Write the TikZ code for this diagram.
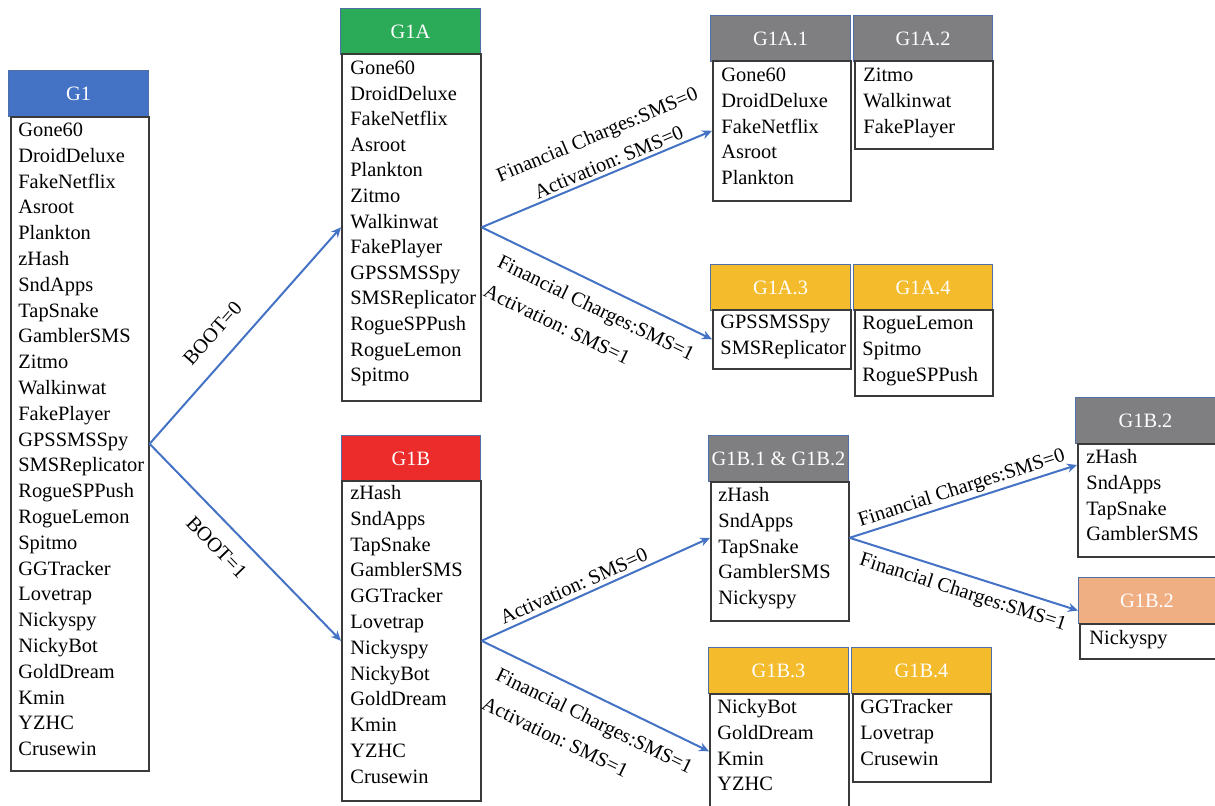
\documentclass[tikz,border=0pt]{standalone}
\usepackage{fontspec}
\setmainfont{Liberation Serif}
\usetikzlibrary{arrows.meta}
\frenchspacing

\definecolor{hdrline}{HTML}{4F6FA8}
\definecolor{lstline}{HTML}{3A3A3A}
\definecolor{arrblue}{HTML}{4472C4}
\definecolor{g1blue}{HTML}{4472C4}
\definecolor{g1green}{HTML}{2BAA57}
\definecolor{g1red}{HTML}{EC2B2B}
\definecolor{g1gray}{HTML}{7F7F81}
\definecolor{g1yellow}{HTML}{F4BC2C}
\definecolor{g1orange}{HTML}{F0AE83}

\begin{document}
\begin{tikzpicture}[x=0.5pt, y=-0.5pt, font=\fontsize{10.2}{12.9}\selectfont,
    hdr/.style={draw=hdrline, line width=0.5pt, text=white, anchor=north west,
      minimum width=70pt, minimum height=23pt, inner sep=0pt},
    lst/.style={draw=lstline, line width=0.8pt, fill=white, anchor=north west,
      minimum width=69pt, inner sep=0pt},
    item/.style={anchor=base west, inner sep=0pt},
    arr/.style={draw=arrblue, line width=1pt, -{Stealth[length=5pt, width=4.5pt]}},
    lbl/.style={sloped, inner sep=1pt, font=\fontsize{10.2}{13}\selectfont}]
  \useasboundingbox (0,0) rectangle (1215,805);

  % G1
  \node[hdr, fill=g1blue] (G1h) at (8,70) {G1};
  \node[lst, minimum height=327pt] (G1l) at (10,116) {};
  \foreach \t [count=\i from 0] in {Gone60,DroidDeluxe,FakeNetflix,Asroot,Plankton,zHash,SndApps,TapSnake,GamblerSMS,Zitmo,Walkinwat,FakePlayer,GPSSMSSpy,SMSReplicator,RogueSPPush,RogueLemon,Spitmo,GGTracker,Lovetrap,Nickyspy,NickyBot,GoldDream,Kmin,YZHC,Crusewin}
    \node[item] (G1-\i) at (18,136.5+25.8*\i) {\t};

  % G1A
  \node[hdr, fill=g1green] (G1Ah) at (340,8) {G1A};
  \node[lst, minimum width=69.5pt, minimum height=173.5pt] (G1Al) at (341,53) {};
  \foreach \t [count=\i from 0] in {Gone60,DroidDeluxe,FakeNetflix,Asroot,Plankton,Zitmo,Walkinwat,FakePlayer,GPSSMSSpy,SMSReplicator,RogueSPPush,RogueLemon,Spitmo}
    \node[item] (G1A-\i) at (350,74.5+25.6*\i) {\t};

  % G1B
  \node[hdr, fill=g1red, minimum width=69.5pt] (G1Bh) at (341,435) {G1B};
  \node[lst, minimum width=69.5pt, minimum height=160pt] (G1Bl) at (341,480) {};
  \foreach \t [count=\i from 0] in {zHash,SndApps,TapSnake,GamblerSMS,GGTracker,Lovetrap,Nickyspy,NickyBot,GoldDream,Kmin,YZHC,Crusewin}
    \node[item] (G1B-\i) at (350,499.5+25.8*\i) {\t};

  % G1A.1 / G1A.2
  \node[hdr, fill=g1gray] (G1A1h) at (710,15) {G1A.1};
  \node[lst, minimum height=70pt] (G1A1l) at (712,60) {};
  \foreach \t [count=\i from 0] in {Gone60,DroidDeluxe,FakeNetflix,Asroot,Plankton}
    \node[item] (G1A1-\i) at (721,81.5+25.8*\i) {\t};
  \node[hdr, fill=g1gray, minimum width=69.5pt] (G1A2h) at (853,15) {G1A.2};
  \node[lst, minimum height=44pt] (G1A2l) at (854,60) {};
  \foreach \t [count=\i from 0] in {Zitmo,Walkinwat,FakePlayer}
    \node[item] (G1A2-\i) at (863,81.5+25.8*\i) {\t};

  % G1A.3 / G1A.4
  \node[hdr, fill=g1yellow] (G1A3h) at (710,264) {G1A.3};
  \node[lst, minimum height=29.5pt] (G1A3l) at (712,309) {};
  \foreach \t [count=\i from 0] in {GPSSMSSpy,SMSReplicator}
    \node[item] (G1A3-\i) at (720,328.5+25.8*\i) {\t};
  \node[hdr, fill=g1yellow, minimum width=69.5pt] (G1A4h) at (853,264) {G1A.4};
  \node[lst, minimum height=43pt] (G1A4l) at (854,309) {};
  \foreach \t [count=\i from 0] in {RogueLemon,Spitmo,RogueSPPush}
    \node[item] (G1A4-\i) at (862,329.5+25.8*\i) {\t};

  % G1B.1 & G1B.2
  \node[hdr, fill=g1gray] (G1B12h) at (708,435) {G1B.1 \& G1B.2};
  \node[lst, minimum height=69.5pt] (G1B12l) at (710,481) {};
  \foreach \t [count=\i from 0] in {zHash,SndApps,TapSnake,GamblerSMS,Nickyspy}
    \node[item] (G1B12-\i) at (718,501.5+25.8*\i) {\t};

  % G1B.2 (zwei)
  \node[hdr, fill=g1gray] (G1B2h) at (1075,397) {G1B.2};
  \node[lst, minimum height=56.5pt] (G1B2l) at (1077,443) {};
  \foreach \t [count=\i from 0] in {zHash,SndApps,TapSnake,GamblerSMS}
    \node[item] (G1B2-\i) at (1086,463.5+25.8*\i) {\t};
  \node[hdr, fill=g1orange, minimum width=68.5pt] (G1B2oh) at (1078,577) {G1B.2};
  \node[lst, minimum width=68pt, minimum height=17.5pt] (G1B2ol) at (1079,623) {};
  \node[item] (G1B2o-0) at (1089,644.5) {Nickyspy};

  % G1B.3 / G1B.4
  \node[hdr, fill=g1yellow] (G1B3h) at (708,647) {G1B.3};
  \node[lst, minimum width=69.5pt, minimum height=57.5pt] (G1B3l) at (709,693) {};
  \foreach \t [count=\i from 0] in {NickyBot,GoldDream,Kmin,YZHC}
    \node[item] (G1B3-\i) at (717,713.5+25.8*\i) {\t};
  \node[hdr, fill=g1yellow] (G1B4h) at (851,647) {G1B.4};
  \node[lst, minimum height=44pt] (G1B4l) at (852,693) {};
  \foreach \t [count=\i from 0] in {GGTracker,Lovetrap,Crusewin}
    \node[item] (G1B4-\i) at (860,713.5+25.8*\i) {\t};

  % Pfeile
  \draw[arr] (G1l.east) -- (G1Al.west) node[lbl, pos=0.43, above=8pt] {BOOT=0};
  \draw[arr] (G1l.east) -- (G1Bl.west) node[lbl, pos=0.44, below=7pt] {BOOT=1};

  \draw[arr] (G1Al.east) -- (G1A1l.west)
    node[lbl, align=center, pos=0.57, above=0.5pt] {Financial Charges:SMS=0\\[2pt]Activation: SMS=0};
  \draw[arr] (G1Al.east) -- (G1A3l.west)
    node[lbl, align=left, pos=0.54, below=6pt] {Financial Charges:SMS=1\\[3pt]Activation: SMS=1};

  \draw[arr] (G1Bl.east) -- ([yshift=6.75pt]G1B12l.west)
    node[lbl, pos=0.425, above=1pt] {Activation: SMS=0};
  \draw[arr] (G1Bl.east) -- (G1B3l.west)
    node[lbl, align=left, pos=0.54, below=6pt] {Financial Charges:SMS=1\\[3pt]Activation: SMS=1};

  \draw[arr] ([yshift=6.75pt]G1B12l.east) -- ([yshift=-11pt]G1B2l.north west)
    node[lbl, pos=0.51, above=0pt] {Financial Charges:SMS=0};
  \draw[arr] ([yshift=6.75pt]G1B12l.east) -- ([yshift=-5pt]G1B2oh.west)
    node[lbl, pos=0.52, below=3pt] {Financial Charges:SMS=1};
\end{tikzpicture}
\end{document}
